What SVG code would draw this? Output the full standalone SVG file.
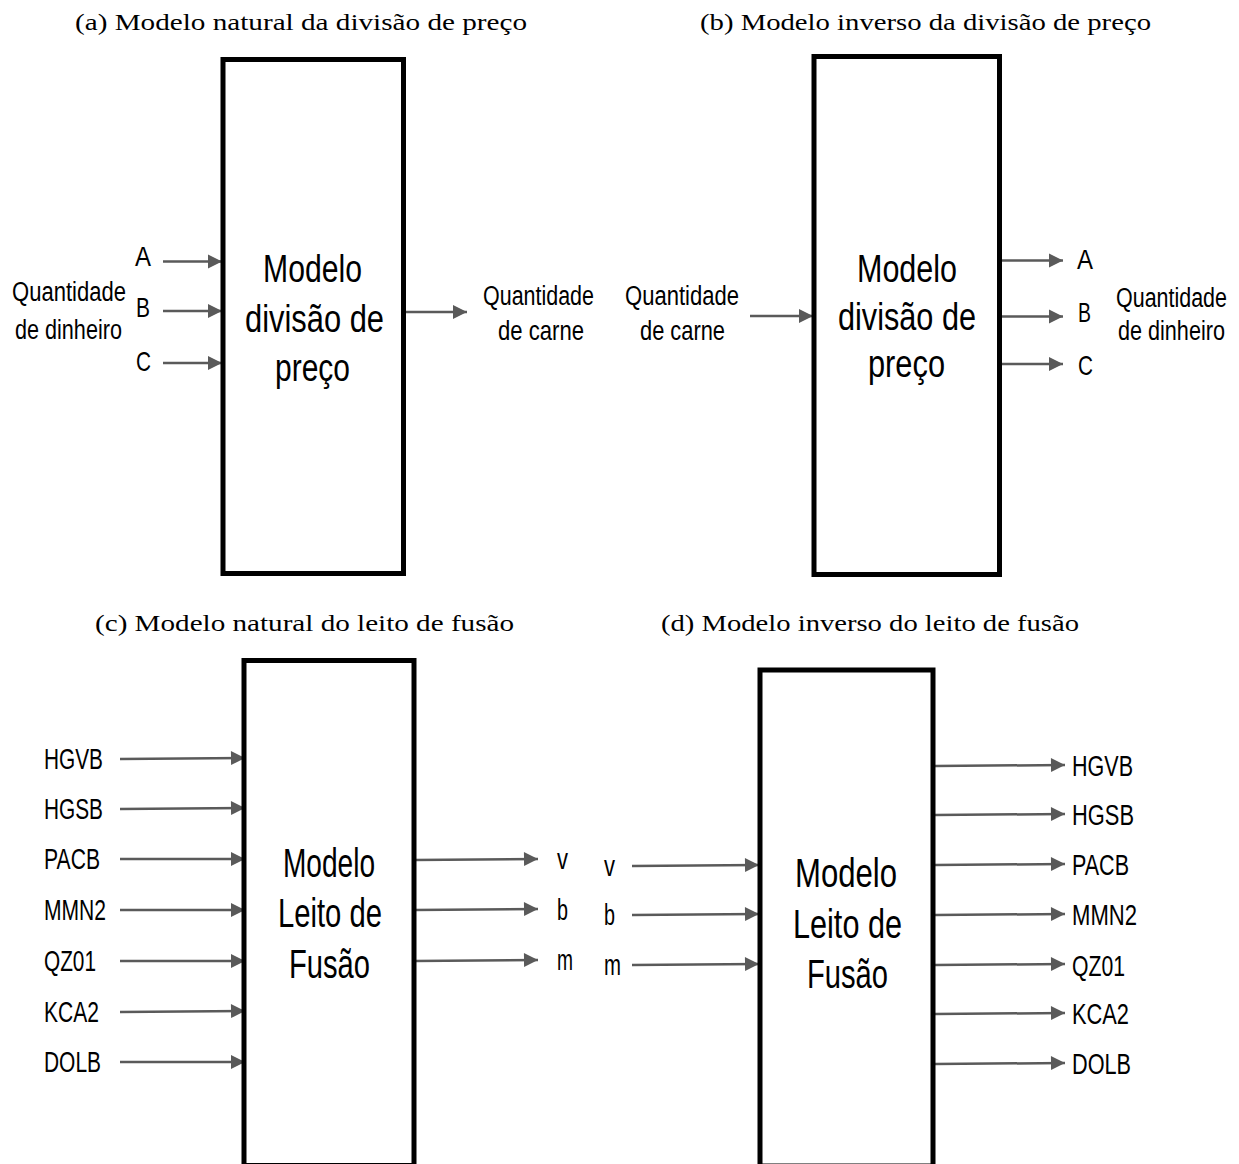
<svg xmlns="http://www.w3.org/2000/svg" width="1239" height="1164" viewBox="0 0 1239 1164">
<style>
.title{font-family:"Liberation Serif","DejaVu Serif",serif;font-size:24px;fill:#000}
.box{fill:#fff;stroke:#000;stroke-width:5}
.bt{font-family:"Liberation Sans",Arial,sans-serif;font-size:38px;fill:#000}
.bt2{font-family:"Liberation Sans",Arial,sans-serif;font-size:41px;fill:#000}
.lb{font-family:"Liberation Sans",Arial,sans-serif;font-size:28px;fill:#000}
.lb2{font-family:"Liberation Sans",Arial,sans-serif;font-size:29px;fill:#000}
.ar{stroke:#5a5a5a;stroke-width:2.5;fill:none;marker-end:url(#ah)}
</style>
<defs>
<marker id="ah" markerUnits="userSpaceOnUse" markerWidth="16" markerHeight="16" viewBox="0 0 16 16" refX="15" refY="8" orient="auto">
<path d="M1,1 L15,8 L1,15 Z" fill="#5a5a5a"/>
</marker>
</defs>
<rect width="1239" height="1164" fill="#fff"/>

<g id="titles">
<text class="title" x="75" y="30" textLength="452" lengthAdjust="spacingAndGlyphs">(a) Modelo natural da divisão de preço</text>
<text class="title" x="700" y="30" textLength="451" lengthAdjust="spacingAndGlyphs">(b) Modelo inverso da divisão de preço</text>
<text class="title" x="95" y="631" textLength="419" lengthAdjust="spacingAndGlyphs">(c) Modelo natural do leito de fusão</text>
<text class="title" x="661" y="631" textLength="418" lengthAdjust="spacingAndGlyphs">(d) Modelo inverso do leito de fusão</text>
</g>

<g id="connectors">
<line class="ar" x1="163" y1="261.5" x2="222" y2="261.5"/>
<line class="ar" x1="163" y1="311" x2="222" y2="311"/>
<line class="ar" x1="163" y1="363" x2="222" y2="363"/>
<line class="ar" x1="405" y1="312" x2="467" y2="312"/>
<line class="ar" x1="750" y1="316" x2="813" y2="316"/>
<line class="ar" x1="1001" y1="260.5" x2="1063" y2="260.5"/>
<line class="ar" x1="1001" y1="316.5" x2="1063" y2="316.5"/>
<line class="ar" x1="1001" y1="364" x2="1063" y2="364"/>
<line class="ar" x1="120" y1="759" x2="245" y2="758"/>
<line class="ar" x1="120" y1="809" x2="245" y2="808"/>
<line class="ar" x1="120" y1="859" x2="245" y2="859"/>
<line class="ar" x1="120" y1="910" x2="245" y2="910"/>
<line class="ar" x1="120" y1="961" x2="245" y2="961"/>
<line class="ar" x1="120" y1="1012" x2="245" y2="1011"/>
<line class="ar" x1="120" y1="1062" x2="245" y2="1062"/>
<line class="ar" x1="414" y1="860" x2="538" y2="859"/>
<line class="ar" x1="414" y1="910" x2="538" y2="909"/>
<line class="ar" x1="414" y1="961" x2="538" y2="960"/>
<line class="ar" x1="632" y1="866" x2="759" y2="865"/>
<line class="ar" x1="632" y1="915" x2="759" y2="914"/>
<line class="ar" x1="632" y1="965" x2="759" y2="964"/>
<line class="ar" x1="935" y1="766" x2="1065" y2="765"/>
<line class="ar" x1="935" y1="815" x2="1065" y2="814"/>
<line class="ar" x1="935" y1="865" x2="1065" y2="864"/>
<line class="ar" x1="935" y1="915" x2="1065" y2="914"/>
<line class="ar" x1="935" y1="965" x2="1065" y2="964"/>
<line class="ar" x1="935" y1="1014" x2="1065" y2="1013"/>
<line class="ar" x1="935" y1="1064" x2="1065" y2="1063"/>
</g>

<g id="node-a">
<rect class="box" x="223" y="59.5" width="180.5" height="514"/>
<text class="bt" x="263" y="282" textLength="99" lengthAdjust="spacingAndGlyphs">Modelo</text>
<text class="bt" x="245" y="332" textLength="139" lengthAdjust="spacingAndGlyphs">divisão de</text>
<text class="bt" x="275" y="381" textLength="75" lengthAdjust="spacingAndGlyphs">preço</text>
</g>
<g id="labels-a">
<text class="lb" transform="matrix(0.787,0,0,1,12,301)">Quantidade</text>
<text class="lb" transform="matrix(0.772,0,0,1,15,339)">de dinheiro</text>
<text class="lb" x="135" y="266" textLength="16" lengthAdjust="spacingAndGlyphs">A</text>
<text class="lb" x="136" y="317" textLength="14" lengthAdjust="spacingAndGlyphs">B</text>
<text class="lb" x="136" y="371" textLength="15" lengthAdjust="spacingAndGlyphs">C</text>
<text class="lb" transform="matrix(0.767,0,0,1,483,305)">Quantidade</text>
<text class="lb" x="498" y="340" textLength="86" lengthAdjust="spacingAndGlyphs">de carne</text>
</g>

<g id="node-b">
<rect class="box" x="814" y="56.5" width="185.5" height="518"/>
<text class="bt" x="857" y="282" textLength="100" lengthAdjust="spacingAndGlyphs">Modelo</text>
<text class="bt" x="838" y="330" textLength="138" lengthAdjust="spacingAndGlyphs">divisão de</text>
<text class="bt" x="868" y="377" textLength="77" lengthAdjust="spacingAndGlyphs">preço</text>
</g>
<g id="labels-b">
<text class="lb" transform="matrix(0.787,0,0,1,625,305)">Quantidade</text>
<text class="lb" x="640" y="340" textLength="85" lengthAdjust="spacingAndGlyphs">de carne</text>
<text class="lb" x="1077" y="269" textLength="16" lengthAdjust="spacingAndGlyphs">A</text>
<text class="lb" x="1078" y="322" textLength="13" lengthAdjust="spacingAndGlyphs">B</text>
<text class="lb" x="1078" y="375" textLength="15" lengthAdjust="spacingAndGlyphs">C</text>
<text class="lb" transform="matrix(0.767,0,0,1,1116,307)">Quantidade</text>
<text class="lb" transform="matrix(0.772,0,0,1,1118,340)">de dinheiro</text>
</g>

<g id="node-c">
<rect class="box" x="244" y="660.5" width="170" height="505"/>
<text class="bt2" x="283" y="877" textLength="92" lengthAdjust="spacingAndGlyphs">Modelo</text>
<text class="bt2" x="278" y="927" textLength="104" lengthAdjust="spacingAndGlyphs">Leito de</text>
<text class="bt2" x="289" y="978" textLength="81" lengthAdjust="spacingAndGlyphs">Fusão</text>
</g>
<g id="labels-c">
<text class="lb2" x="44" y="769" textLength="59" lengthAdjust="spacingAndGlyphs">HGVB</text>
<text class="lb2" x="44" y="819" textLength="59" lengthAdjust="spacingAndGlyphs">HGSB</text>
<text class="lb2" x="44" y="869" textLength="56" lengthAdjust="spacingAndGlyphs">PACB</text>
<text class="lb2" x="44" y="920" textLength="62" lengthAdjust="spacingAndGlyphs">MMN2</text>
<text class="lb2" x="44" y="971" textLength="52" lengthAdjust="spacingAndGlyphs">QZ01</text>
<text class="lb2" x="44" y="1022" textLength="55" lengthAdjust="spacingAndGlyphs">KCA2</text>
<text class="lb2" x="44" y="1072" textLength="57" lengthAdjust="spacingAndGlyphs">DOLB</text>
<text class="lb2" x="557" y="869" textLength="11" lengthAdjust="spacingAndGlyphs">v</text>
<text class="lb2" x="557" y="920" textLength="11" lengthAdjust="spacingAndGlyphs">b</text>
<text class="lb2" x="557" y="970" textLength="16" lengthAdjust="spacingAndGlyphs">m</text>
</g>

<g id="node-d">
<rect class="box" x="760" y="670" width="173" height="496"/>
<text class="bt2" x="795" y="887" textLength="102" lengthAdjust="spacingAndGlyphs">Modelo</text>
<text class="bt2" x="793" y="938" textLength="109" lengthAdjust="spacingAndGlyphs">Leito de</text>
<text class="bt2" x="807" y="988" textLength="81" lengthAdjust="spacingAndGlyphs">Fusão</text>
</g>
<g id="labels-d">
<text class="lb2" x="604" y="876" textLength="11" lengthAdjust="spacingAndGlyphs">v</text>
<text class="lb2" x="604" y="925" textLength="11" lengthAdjust="spacingAndGlyphs">b</text>
<text class="lb2" x="604" y="975" textLength="17" lengthAdjust="spacingAndGlyphs">m</text>
<text class="lb2" x="1072" y="776" textLength="61" lengthAdjust="spacingAndGlyphs">HGVB</text>
<text class="lb2" x="1072" y="825" textLength="62" lengthAdjust="spacingAndGlyphs">HGSB</text>
<text class="lb2" x="1072" y="875" textLength="57" lengthAdjust="spacingAndGlyphs">PACB</text>
<text class="lb2" x="1072" y="925" textLength="65" lengthAdjust="spacingAndGlyphs">MMN2</text>
<text class="lb2" x="1072" y="976" textLength="53" lengthAdjust="spacingAndGlyphs">QZ01</text>
<text class="lb2" x="1072" y="1024" textLength="57" lengthAdjust="spacingAndGlyphs">KCA2</text>
<text class="lb2" x="1072" y="1074" textLength="59" lengthAdjust="spacingAndGlyphs">DOLB</text>
</g>
</svg>
